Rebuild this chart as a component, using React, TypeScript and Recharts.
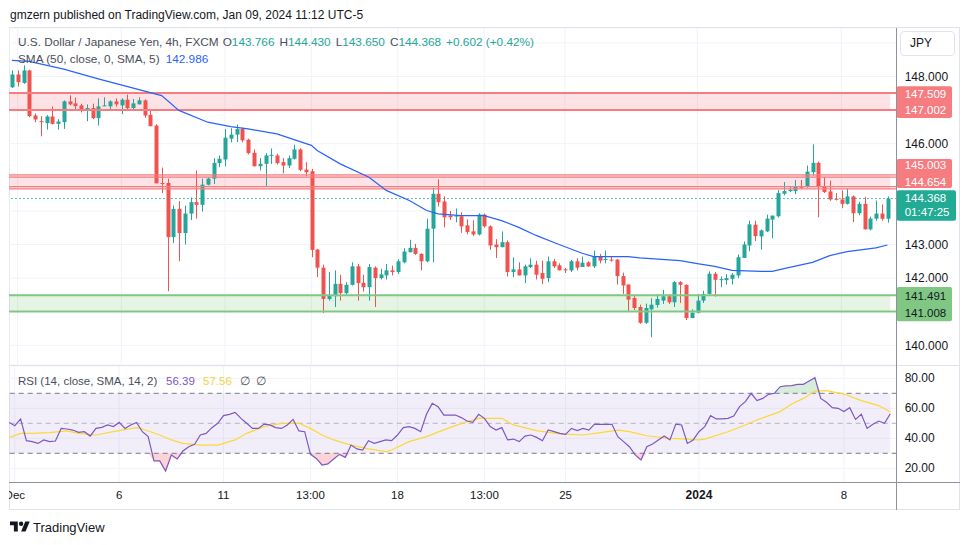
import React from 'react';
import {
  ComposedChart, Bar, Line, Area, XAxis, YAxis, CartesianGrid, ReferenceLine, ReferenceArea,
} from 'recharts';

const FONT = '"Liberation Sans", Arial, sans-serif';

// ---- price candles (4h), oldest first ----
const openP = [147.68,148.06,147.81,148.18,146.84,146.67,146.61,146.81,146.59,146.64,147.26,147.20,147.14,147.00,147.06,146.76,147.12,147.11,147.26,147.14,147.31,147.06,147.17,147.29,146.86,146.54,144.83,144.83,143.22,144.06,143.34,143.92,144.26,144.18,144.78,144.96,145.42,145.53,146.15,146.27,146.44,146.12,145.73,145.33,145.40,145.65,145.65,145.45,145.35,145.55,145.83,145.23,145.18,142.85,142.31,141.38,141.46,141.83,141.55,141.80,142.35,141.86,141.73,142.31,142.00,142.08,142.23,142.18,142.47,142.77,142.90,142.72,142.50,143.47,144.51,144.28,143.86,143.83,143.84,143.57,143.39,143.30,143.89,143.54,143.00,142.92,143.07,142.18,142.26,142.08,142.33,142.40,142.15,142.00,142.50,142.38,142.26,142.23,142.50,142.33,142.47,142.35,142.64,142.55,142.55,142.55,142.06,141.81,141.41,141.14,140.67,141.07,141.20,141.33,141.46,141.28,141.88,141.80,140.81,140.97,141.33,141.53,142.13,141.95,141.94,141.98,142.08,142.60,142.97,143.59,143.24,143.39,143.74,143.84,144.51,144.59,144.59,144.72,144.71,145.15,145.43,144.73,144.58,144.36,144.34,144.21,144.43,143.93,144.21,143.45,143.77,143.92,143.766];
const highP = [148.18,148.18,148.33,148.20,146.90,146.82,146.85,147.11,146.73,147.29,147.44,147.37,147.19,147.17,147.19,147.35,147.38,147.29,147.35,147.35,147.46,147.33,147.38,147.32,147.00,146.58,145.29,144.96,144.16,144.29,144.16,144.40,145.20,144.96,145.00,145.57,145.65,146.44,146.46,146.57,146.48,146.15,145.83,145.57,145.72,145.86,145.70,145.57,145.65,145.97,145.86,145.45,145.25,142.87,142.40,142.18,142.23,142.10,141.88,142.47,142.42,142.10,142.42,142.35,142.28,142.42,142.37,142.56,142.89,143.14,143.02,142.74,143.77,144.69,144.94,144.43,144.00,144.07,143.96,143.75,143.72,143.93,143.92,143.57,143.16,143.39,143.12,142.62,142.47,142.40,142.59,142.52,142.52,142.64,142.57,142.44,142.30,142.54,142.59,142.64,142.50,142.82,142.72,142.82,142.64,142.57,142.16,141.81,141.51,141.21,141.24,141.40,141.53,141.65,141.53,141.91,141.91,141.81,141.07,141.53,141.62,142.20,142.18,142.05,142.12,142.15,142.70,143.09,143.71,143.71,143.45,143.89,143.86,144.62,144.86,144.71,144.92,144.92,145.35,145.98,145.47,145.00,144.90,144.53,144.61,144.67,144.46,144.27,144.42,143.83,144.31,144.19,144.430];
const lowP = [147.66,147.70,147.78,146.79,146.64,146.22,146.42,146.57,146.42,146.44,147.14,146.99,146.93,146.67,146.73,146.54,147.12,147.03,147.10,146.88,146.97,146.97,147.17,146.77,146.52,144.82,144.53,141.61,143.04,142.50,143.00,143.73,143.77,143.98,144.76,144.80,145.30,145.32,146.04,146.05,146.04,145.68,145.32,145.20,144.73,145.40,145.38,145.12,145.28,145.53,145.18,145.03,142.62,142.03,140.96,141.33,141.14,141.33,141.52,141.78,141.33,141.60,141.33,141.14,141.96,141.96,142.08,142.12,142.44,142.77,142.69,142.23,142.47,142.47,144.13,143.51,143.73,143.66,143.35,143.30,143.25,143.27,143.50,142.84,142.60,142.92,142.05,142.03,142.08,141.85,142.30,141.96,141.82,141.88,142.30,142.23,142.15,142.18,142.23,142.33,142.33,142.30,142.44,142.44,142.49,141.81,141.53,141.00,141.05,140.64,140.64,140.24,141.12,141.23,141.23,141.14,141.26,140.75,140.81,140.95,141.26,141.51,141.45,141.73,141.81,141.81,142.00,142.60,142.80,143.10,142.85,143.37,143.19,143.80,144.46,144.56,144.50,144.65,144.69,145.05,143.81,144.53,144.30,144.31,144.08,144.19,143.67,143.87,143.45,143.42,143.71,143.71,143.650];
const closeP = [148.06,147.83,148.18,146.82,146.72,146.64,146.81,146.59,146.66,147.26,147.17,147.12,146.99,147.06,146.76,147.11,147.14,147.26,147.17,147.31,147.06,147.20,147.29,146.84,146.52,144.82,144.81,143.22,144.06,143.34,143.92,144.26,144.18,144.78,144.96,145.43,145.55,146.18,146.27,146.44,146.10,145.72,145.33,145.40,145.65,145.67,145.42,145.35,145.57,145.83,145.22,145.15,142.84,142.31,141.38,141.48,141.83,141.55,141.80,142.35,141.85,141.73,142.33,142.00,142.11,142.23,142.18,142.50,142.79,142.90,142.72,142.50,143.47,144.51,144.26,143.81,143.81,143.86,143.54,143.37,143.30,143.89,143.54,142.97,142.92,143.07,142.18,142.26,142.08,142.35,142.40,142.10,141.98,142.50,142.35,142.23,142.23,142.50,142.31,142.46,142.35,142.64,142.52,142.57,142.52,142.06,141.78,141.36,141.11,140.67,141.11,141.21,141.38,141.46,141.28,141.88,141.80,140.81,140.97,141.33,141.53,142.13,141.95,141.97,142.00,142.10,142.62,143.00,143.60,143.25,143.42,143.77,143.86,144.53,144.59,144.63,144.73,144.70,145.17,145.43,144.71,144.56,144.34,144.34,144.21,144.43,143.93,144.21,143.45,143.77,143.92,143.766,144.368];

// ---- SMA(50) read at selected candles ----
const smaIdx = [1,4,10,16,27,30,35,39,42,47,50,53,54,58,63,66,70,73,75,79,83,86,89,92,96,100,102,105,108,110,117,120,123,126,131,133,136,140,143,146,151,153];
const smaVal = [148.48,148.45,148.22,147.93,147.43,146.99,146.64,146.51,146.44,146.29,146.12,145.95,145.80,145.40,145.00,144.61,144.31,144.01,143.91,143.86,143.86,143.71,143.51,143.27,143.00,142.74,142.64,142.64,142.64,142.60,142.52,142.43,142.35,142.23,142.20,142.20,142.32,142.47,142.67,142.79,142.90,142.986];

// ---- RSI(14) per candle ----
const rsiVals = [50.6,48.4,52.9,38.4,37.8,36.6,38.9,37.8,38.2,46.6,46.2,45.5,44.0,44.4,41.5,46.6,47.3,48.9,47.8,50.6,46.6,48.9,50.6,44.4,41.1,24.9,24.9,18.2,28.9,26.2,31.5,34.4,36.0,42.2,43.3,47.1,50.0,55.1,56.0,57.3,53.3,50.0,46.6,46.6,49.5,48.9,47.1,46.6,48.9,52.6,44.9,44.4,29.3,26.6,22.2,22.9,26.2,29.3,27.3,35.5,32.9,32.2,38.4,36.6,37.8,38.9,38.4,42.2,47.1,47.8,46.6,44.4,56.0,63.3,61.1,55.5,55.5,55.5,53.8,51.5,50.6,56.0,53.3,47.8,45.5,47.1,38.9,39.5,37.8,41.5,42.2,40.6,38.4,45.5,44.4,43.3,42.6,46.6,45.1,46.6,45.5,49.5,49.3,49.3,49.3,41.1,37.8,34.4,28.9,25.5,34.4,36.2,38.9,41.5,38.9,49.5,48.9,36.6,38.9,44.4,47.8,55.1,52.9,52.9,53.3,54.9,61.1,64.4,70.0,65.1,66.6,69.3,70.0,74.4,74.9,75.1,76.0,76.0,78.2,80.4,66.6,64.0,60.4,60.0,57.8,60.4,52.6,56.0,46.6,49.3,51.5,50.0,56.39];

// ---- RSI-based SMA(14) read at selected candles ----
const rsiSmaIdx = [1,3,5,8,11,13,16,19,23,24,27,29,31,34,37,40,42,45,48,51,53,55,57,60,63,66,67,70,73,77,80,82,86,88,92,96,100,103,106,108,111,115,118,120,121,125,128,130,134,136,138,140,142,145,148,151,153];
const rsiSmaVal = [40.4,43.3,43.3,43.8,44.9,43.3,42.2,44.4,47.1,46.2,42.2,38.9,36.6,35.5,35.5,38.9,43.3,47.8,50.0,50.0,46.6,42.2,38.9,35.5,32.9,31.1,32.2,37.8,41.1,47.1,51.1,53.3,53.3,48.9,45.1,42.9,42.2,43.8,45.5,44.4,41.7,40.0,39.5,38.9,39.5,44.4,48.9,52.2,57.8,62.9,66.6,71.5,71.8,69.5,65.1,61.8,57.56];

// ---- axis ticks ----
const xTickIdx = [2, 20, 38, 53, 68, 83, 97, 120, 145];
const xTickLabels = ['Dec', '6', '11', '13:00', '18', '13:00', '25', '2024', '8'];
const priceTicks = [140, 141, 142, 143, 144, 145, 146, 147, 148, 149];
const priceLabelTicks = [140, 142, 143, 146, 148];
const rsiTicks = [20, 40, 60, 80];

// ---- zones ----
const resistHi = [147.002, 147.509];
const resistLo = [144.654, 145.003];
const resistLoOuter = [144.72, 145.07];
const supportZone = [141.008, 141.491];
const lastPrice = 144.368;

const data = openP.map((o, k) => {
  const i = k + 1;
  const si = smaIdx.indexOf(i);
  const ri = rsiSmaIdx.indexOf(i);
  const r = rsiVals[k];
  return {
    i, o, h: highP[k], l: lowP[k], c: closeP[k],
    range: [lowP[k], highP[k]],
    sma: si >= 0 ? smaVal[si] : null,
    rsi: r,
    rsiSma: ri >= 0 ? rsiSmaVal[ri] : null,
    ob: [70, Math.max(r, 70)],
    os: [Math.min(r, 30), 30],
  };
});

const UP = '#26a69a';
const DOWN = '#ef5350';
const TXT = '#4a4e59';

const Candle = (props: any) => {
  const { x, y, width, height, payload } = props;
  if (x == null || payload == null) return <g />;
  const { o, h, l, c } = payload;
  const top = Math.min(y, y + height);
  const bot = Math.max(y, y + height);
  const span = h - l;
  const yOf = (v: number) => (span > 0 ? top + ((h - v) / span) * (bot - top) : top);
  const cx = Math.round(x + width / 2) + 0.5;
  const color = c >= o ? UP : DOWN;
  const bTop = yOf(Math.max(o, c));
  const bBot = yOf(Math.min(o, c));
  return (
    <g>
      <line x1={cx} x2={cx} y1={top} y2={bot} stroke={color} strokeWidth={1} />
      <rect x={cx - 2} y={bTop} width={4} height={Math.max(1, bBot - bTop)} fill={color} />
    </g>
  );
};

const PriceTick = (props: any) => {
  const { x, y, payload } = props;
  if (!priceLabelTicks.includes(payload.value)) return <g />;
  return (
    <text x={x + 8} y={y} dy="0.35em" fontSize={12} fill="#131722" fontFamily={FONT}>
      {Number(payload.value).toFixed(3)}
    </text>
  );
};

const RsiTick = (props: any) => {
  const { x, y, payload } = props;
  return (
    <text x={x + 8} y={y} dy="0.35em" fontSize={12} fill="#131722" fontFamily={FONT}>
      {Number(payload.value).toFixed(2)}
    </text>
  );
};

const TimeTick = (props: any) => {
  const { x, y, payload } = props;
  const k = xTickIdx.indexOf(Number(payload.value));
  const label = k >= 0 ? xTickLabels[k] : '';
  const bold = label === '2024';
  return (
    <text x={x} y={y + 16} textAnchor="middle" fontSize={bold ? 12 : 11.5} fill="#131722" fontFamily={FONT}
      fontWeight={bold ? 700 : 400}>
      {label}
    </text>
  );
};

const makeTag = (lines: string[], bg: string, fg: string, top: number, h: number, w: number, offs: number[]) =>
  (props: any) => {
    const vb = props.viewBox || {};
    const x0 = (vb.x ?? 0) + (vb.width ?? 0);
    const y0 = vb.y ?? 0;
    return (
      <g>
        <rect x={x0} y={y0 + top} width={w} height={h} rx={2} fill={bg} />
        {lines.map((t, k) => (
          <text key={k} x={x0 + 8} y={y0 + offs[k]} dy="0.35em" fill={fg} fontSize={11.5} fontFamily={FONT}>{t}</text>
        ))}
      </g>
    );
  };

const tagHi = makeTag([resistHi[1].toFixed(3), resistHi[0].toFixed(3)], '#f77c80', '#ffffff', -6.7, 31.7, 55.3, [0.7, 17.3]);
const tagLo = makeTag([resistLo[1].toFixed(3), resistLo[0].toFixed(3)], '#f77c80', '#ffffff', -18.2, 29, 55.3, [-12.3, 4.8]);
const tagLast = makeTag([lastPrice.toFixed(3), '01:47:25'], '#22ab94', '#ffffff', -8.2, 30.4, 59.3, [-0.3, 13.7]);
const tagSup = makeTag([supportZone[1].toFixed(3), supportZone[0].toFixed(3)], '#81c784', '#131722', -8.2, 34.3, 55.3, [1.1, 17.8]);

const W = 951;
const AXW = 63.3;

const legendStyle: React.CSSProperties = {
  position: 'absolute', fontSize: 11.8, color: TXT, whiteSpace: 'nowrap', lineHeight: '15px',
};

export default function App() {
  return (
    <div style={{ position: 'absolute', left: 0, top: 0, width: 970, height: 545, background: '#fff', overflow: 'hidden', fontFamily: FONT }}>
      {/* header */}
      <div style={{ position: 'absolute', left: 10, top: 7, fontSize: 12, color: '#131722', whiteSpace: 'nowrap', lineHeight: '16px' }}>
        gmzern published on TradingView.com, Jan 09, 2024 11:12 UTC-5
      </div>
      {/* frame */}
      <div style={{ position: 'absolute', left: 9, top: 27, width: 951, height: 483, border: '1px solid #e0e3eb', boxSizing: 'border-box' }} />

      {/* main pane */}
      <div style={{ position: 'absolute', left: 9, top: 28 }}>
        <ComposedChart width={W} height={337} data={data} margin={{ top: 0, right: 0, bottom: 0, left: 0 }}>
          <CartesianGrid stroke="#f0f3fa" />
          <XAxis dataKey="i" type="category" hide ticks={xTickIdx} interval={0} padding={{ left: 0, right: 6.4 }} />
          <YAxis orientation="right" type="number" width={AXW} domain={[139.414, 149.443]} allowDataOverflow
            ticks={priceTicks} interval={0} axisLine={false} tickLine={false} tickSize={0} tickMargin={0} tick={PriceTick} />
          <ReferenceArea y1={resistHi[0]} y2={resistHi[1]} fill="#f23645" fillOpacity={0.14} stroke="none" />
          <ReferenceArea y1={resistLo[0]} y2={resistLoOuter[1]} fill="#f23645" fillOpacity={0.14} stroke="none" />
          <ReferenceArea y1={supportZone[0]} y2={supportZone[1]} fill="#4caf50" fillOpacity={0.14} stroke="none" />
          <ReferenceLine y={resistHi[0]} stroke="#f77c80" strokeWidth={2} />
          <ReferenceLine y={resistHi[1]} stroke="#f77c80" strokeWidth={2} />
          <ReferenceLine y={resistLo[0]} stroke="#f77c80" strokeWidth={1.3} />
          <ReferenceLine y={resistLo[1]} stroke="#f77c80" strokeWidth={1.3} />
          <ReferenceLine y={resistLoOuter[0]} stroke="#f77c80" strokeWidth={1.3} />
          <ReferenceLine y={resistLoOuter[1]} stroke="#f77c80" strokeWidth={1.3} />
          <ReferenceLine y={supportZone[0]} stroke="#81c784" strokeWidth={2} />
          <ReferenceLine y={supportZone[1]} stroke="#81c784" strokeWidth={2} />
          <ReferenceLine y={lastPrice} stroke={UP} strokeWidth={1} strokeDasharray="1.5 2.5" />
          <Bar dataKey="range" shape={Candle} isAnimationActive={false} />
          <Line dataKey="sma" connectNulls dot={false} stroke="#2962ff" strokeWidth={1.2} isAnimationActive={false} />
          <ReferenceLine y={resistHi[1]} stroke="none" ifOverflow="visible" label={tagHi} />
          <ReferenceLine y={resistLo[1]} stroke="none" ifOverflow="visible" label={tagLo} />
          <ReferenceLine y={lastPrice} stroke="none" ifOverflow="visible" label={tagLast} />
          <ReferenceLine y={supportZone[1]} stroke="none" ifOverflow="visible" label={tagSup} />
        </ComposedChart>
      </div>

      {/* legend main */}
      <div style={{ ...legendStyle, left: 18, top: 35, display: 'flex' }}>
        <span>U.S. Dollar / Japanese Yen, 4h, FXCM</span>
        <span style={{ marginLeft: 4 }}>O</span><span style={{ color: UP }}>143.766</span>
        <span style={{ marginLeft: 5 }}>H</span><span style={{ color: UP }}>144.430</span>
        <span style={{ marginLeft: 5 }}>L</span><span style={{ color: UP }}>143.650</span>
        <span style={{ marginLeft: 5 }}>C</span><span style={{ color: UP }}>144.368</span>
        <span style={{ marginLeft: 5, color: UP }}>+0.602 (+0.42%)</span>
      </div>
      <div style={{ ...legendStyle, left: 18, top: 52, display: 'flex' }}>
        <span>SMA (50, close, 0, SMA, 5)</span>
        <span style={{ marginLeft: 6, color: '#2962ff' }}>142.986</span>
      </div>

      {/* JPY button */}
      <div style={{ position: 'absolute', left: 900, top: 31, width: 55, height: 25, border: '1px solid #e0e3eb', borderRadius: 4, boxSizing: 'border-box', fontSize: 12, color: '#131722', lineHeight: '23px', paddingLeft: 9, background: '#fff' }}>
        JPY
      </div>

      {/* pane divider */}
      <div style={{ position: 'absolute', left: 9, top: 365, width: 951, height: 1, background: '#e0e3eb' }} />

      {/* RSI pane + time axis */}
      <div style={{ position: 'absolute', left: 9, top: 366 }}>
        <ComposedChart width={W} height={144} data={data} margin={{ top: 0, right: 0, bottom: 0, left: 0 }}>
          <CartesianGrid stroke="#f0f3fa" />
          <XAxis dataKey="i" type="category" ticks={xTickIdx} interval={0} height={27.5} padding={{ left: 0, right: 6.4 }}
            axisLine={false} tickLine={false} tickSize={0} tickMargin={0} tick={TimeTick} />
          <YAxis orientation="right" type="number" width={AXW} domain={[10.53, 88.2]} allowDataOverflow
            ticks={rsiTicks} interval={0} axisLine={false} tickLine={false} tickSize={0} tickMargin={0} tick={RsiTick} />
          <ReferenceArea y1={30} y2={70} fill="#7e57c2" fillOpacity={0.1} stroke="none" />
          <Area dataKey="ob" stroke="none" fill="#4caf50" fillOpacity={0.22} isAnimationActive={false} />
          <Area dataKey="os" stroke="none" fill="#f23645" fillOpacity={0.22} isAnimationActive={false} />
          <ReferenceLine y={70} stroke="#787b86" strokeDasharray="5 4" />
          <ReferenceLine y={50} stroke="#b2b5be" strokeDasharray="5 4" />
          <ReferenceLine y={30} stroke="#787b86" strokeDasharray="5 4" />
          <Line dataKey="rsiSma" connectNulls dot={false} stroke="#fdd835" strokeWidth={1.2} isAnimationActive={false} />
          <Line dataKey="rsi" dot={false} stroke="#7e57c2" strokeWidth={1.2} isAnimationActive={false} />
        </ComposedChart>
      </div>

      {/* RSI legend */}
      <div style={{ ...legendStyle, fontSize: 11.5, left: 18, top: 374 }}>RSI (14, close, SMA, 14, 2)</div>
      <div style={{ ...legendStyle, fontSize: 11.5, left: 166, top: 374, color: '#7e57c2' }}>56.39</div>
      <div style={{ ...legendStyle, fontSize: 11.5, left: 203, top: 374, color: '#f5d142' }}>57.56</div>
      <div style={{ ...legendStyle, fontSize: 11.5, left: 240, top: 374 }}>∅</div>
      <div style={{ ...legendStyle, fontSize: 11.5, left: 256, top: 374 }}>∅</div>

      {/* axis borders */}
      <div style={{ position: 'absolute', left: 896, top: 28, width: 1, height: 482, background: '#8f929b' }} />
      <div style={{ position: 'absolute', left: 9, top: 482, width: 951, height: 1, background: '#8f929b' }} />

      {/* TradingView logo */}
      <div style={{ position: 'absolute', left: 10, top: 519, display: 'flex', alignItems: 'center' }}>
        <svg width={20} height={16} viewBox="0 0 36 28">
          <path d="M14 22H7V11H0V4h14v18zM28 22h-8l7.5-18h8L28 22z" fill="#131722" />
          <circle cx={20} cy={8} r={4} fill="#131722" />
        </svg>
        <span style={{ marginLeft: 3, fontSize: 13, color: '#131722' }}>TradingView</span>
      </div>
    </div>
  );
}
